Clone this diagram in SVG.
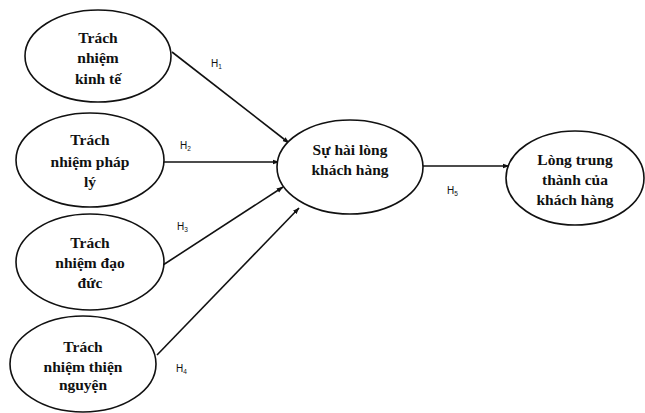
<svg xmlns="http://www.w3.org/2000/svg" width="645" height="413" viewBox="0 0 645 413">
<defs>
<marker id="arr" viewBox="0 0 10 10" refX="9" refY="5" markerWidth="7" markerHeight="7" orient="auto" markerUnits="userSpaceOnUse">
<path d="M0,1.5 L10,5 L0,8.5 Z" fill="#111"/>
</marker>
<style>
.n{fill:#fff;stroke:#111;stroke-width:1.6}
.t{font-family:"Liberation Serif","Times New Roman",serif;font-weight:bold;font-size:15.5px;fill:#111;text-anchor:middle}
.c{stroke:#111;stroke-width:1.6;fill:none;marker-end:url(#arr)}
.h{font-family:"Liberation Sans",Arial,sans-serif;font-size:10px;fill:#111}
.s{font-size:6.5px}
</style>
</defs>
<rect width="645" height="413" fill="#fff"/>
<g id="connectors">
<line class="c" x1="172" y1="52" x2="289" y2="143"/>
<line class="c" x1="163" y1="162" x2="279" y2="162"/>
<line class="c" x1="163" y1="265" x2="283" y2="187"/>
<line class="c" x1="157" y1="355" x2="299" y2="208"/>
<line class="c" x1="423" y1="166" x2="509" y2="166"/>
<text class="h" x="211" y="67">H<tspan class="s" dy="2">1</tspan></text>
<text class="h" x="180" y="149">H<tspan class="s" dy="2">2</tspan></text>
<text class="h" x="177" y="230">H<tspan class="s" dy="2">3</tspan></text>
<text class="h" x="176" y="372">H<tspan class="s" dy="2">4</tspan></text>
<text class="h" x="447" y="194">H<tspan class="s" dy="2">5</tspan></text>
</g>
<g id="n1">
<ellipse class="n" cx="98" cy="56" rx="73" ry="46"/>
<text class="t" x="98" y="43">Trách</text>
<text class="t" x="98" y="63">nhiệm</text>
<text class="t" x="98" y="84">kinh tế</text>
</g>
<g id="n2">
<ellipse class="n" cx="90" cy="160" rx="74" ry="47"/>
<text class="t" x="90" y="145">Trách</text>
<text class="t" x="90" y="167">nhiệm pháp</text>
<text class="t" x="90" y="187">lý</text>
</g>
<g id="n3">
<ellipse class="n" cx="90" cy="262" rx="74" ry="48"/>
<text class="t" x="90" y="248">Trách</text>
<text class="t" x="90" y="268">nhiệm đạo</text>
<text class="t" x="90" y="288">đức</text>
</g>
<g id="n4">
<ellipse class="n" cx="83" cy="364" rx="73" ry="48"/>
<text class="t" x="83" y="352">Trách</text>
<text class="t" x="83" y="372">nhiệm thiện</text>
<text class="t" x="83" y="390">nguyện</text>
</g>
<g id="n5">
<ellipse class="n" cx="350" cy="167" rx="73" ry="47"/>
<text class="t" x="350" y="155">Sự hài lòng</text>
<text class="t" x="350" y="175">khách hàng</text>
</g>
<g id="n6">
<ellipse class="n" cx="575" cy="178" rx="69" ry="47"/>
<text class="t" x="575" y="165">Lòng trung</text>
<text class="t" x="575" y="185">thành của</text>
<text class="t" x="575" y="205">khách hàng</text>
</g>
</svg>
